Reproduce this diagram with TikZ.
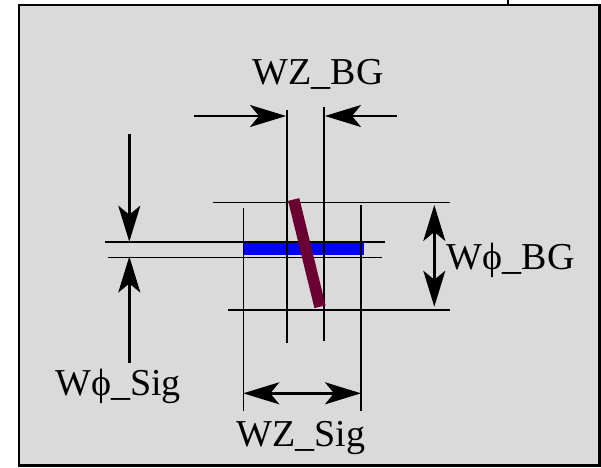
\documentclass[tikz,border=0pt]{standalone}
\usepackage{fontspec}
\setmainfont{Liberation Serif}
\usetikzlibrary{arrows.meta}
\definecolor{panelgray}{RGB}{218,218,218}
\definecolor{maroonbar}{RGB}{106,0,50}
\definecolor{sigblue}{RGB}{0,0,255}
\tikzset{
  thinline/.style={line width=1.6pt, black},
  dimarrow/.style={line width=2.6pt, black, -{Stealth[length=36pt,width=22pt,inset=9pt]}},
  dimboth/.style={line width=2.6pt, black, {Stealth[length=36pt,width=22pt,inset=9pt]}-{Stealth[length=36pt,width=22pt,inset=9pt]}},
  lbl/.style={inner sep=0pt, font=\fontsize{38}{40}\selectfont},
}
\begin{document}
\begin{tikzpicture}[x=1pt,y=-1pt]
\useasboundingbox (0,0) rectangle (601,467);
\fill[white] (0,0) rectangle (601,467);
% panel
\draw[line width=2.2pt, fill=panelgray] (19,5.3) rectangle (599.5,465.5);
\coordinate (tickA) at (508,0); \coordinate (tickB) at (508,5);
\draw[line width=1.6pt] (tickA) -- (tickB);

% blue signal strip
\fill[sigblue] (244,242.6) rectangle (363.7,255.4);

% background horizontal lines
\coordinate (bgT1) at (213,202.3); \coordinate (bgT2) at (450,202.3);
\coordinate (bgB1) at (228,310);   \coordinate (bgB2) at (450,310);
\draw[thinline] (bgT1) -- (bgT2);
\draw[thinline] (bgB1) -- (bgB2);
% signal horizontal lines
\coordinate (sgT1) at (105,242);   \coordinate (sgT2) at (385,242);
\coordinate (sgB1) at (108,257.3); \coordinate (sgB2) at (382.3,257.3);
\draw[thinline] (sgT1) -- (sgT2);
\draw[thinline] (sgB1) -- (sgB2);
% WZ_BG verticals
\coordinate (zbL1) at (286.7,110); \coordinate (zbL2) at (286.7,343);
\coordinate (zbR1) at (324,107);   \coordinate (zbR2) at (324,341);
\draw[thinline] (zbL1) -- (zbL2);
\draw[thinline] (zbR1) -- (zbR2);
% WZ_Sig verticals
\coordinate (zsL1) at (243.3,208); \coordinate (zsL2) at (243.3,411);
\coordinate (zsR1) at (361,205);   \coordinate (zsR2) at (361,411);
\draw[thinline] (zsL1) -- (zsL2);
\draw[thinline] (zsR1) -- (zsR2);

% maroon bar
\coordinate (barA) at (293.7,199.5); \coordinate (barB) at (320,306.7);
\draw[maroonbar, line width=11.5pt] (barA) -- (barB);

% WZ_BG arrows
\coordinate (azL0) at (194,116); \coordinate (azL1) at (286,116);
\coordinate (azR0) at (397,116); \coordinate (azR1) at (325,116);
\draw[dimarrow] (azL0) -- (azL1);
\draw[dimarrow] (azR0) -- (azR1);
% WZ_Sig arrow
\coordinate (asL) at (243.3,393.3); \coordinate (asR) at (361,393.3);
\draw[dimboth] (asL) -- (asR);
% Wphi_Sig arrows
\coordinate (apT0) at (129.3,134); \coordinate (apT1) at (129.3,241.7);
\coordinate (apB0) at (129.3,362.7); \coordinate (apB1) at (129.3,256.5);
\draw[dimarrow] (apT0) -- (apT1);
\draw[dimarrow] (apB0) -- (apB1);
% Wphi_BG arrow
\coordinate (abT) at (434.3,205); \coordinate (abB) at (434.3,306.7);
\draw[dimboth] (abT) -- (abB);

% labels
\node[lbl, anchor=base] (lzbg) at (318,84) {WZ\_BG};
\node[lbl, anchor=base] (lzsig) at (301,446.7) {WZ\_Sig};
\node[lbl, anchor=base west] (lpbg) at (446.7,269.3) {W\symbol{"03D5}\_BG};
\node[lbl, anchor=base] (lpsig) at (118,395) {W\symbol{"03D5}\_Sig};
\end{tikzpicture}
\end{document}
